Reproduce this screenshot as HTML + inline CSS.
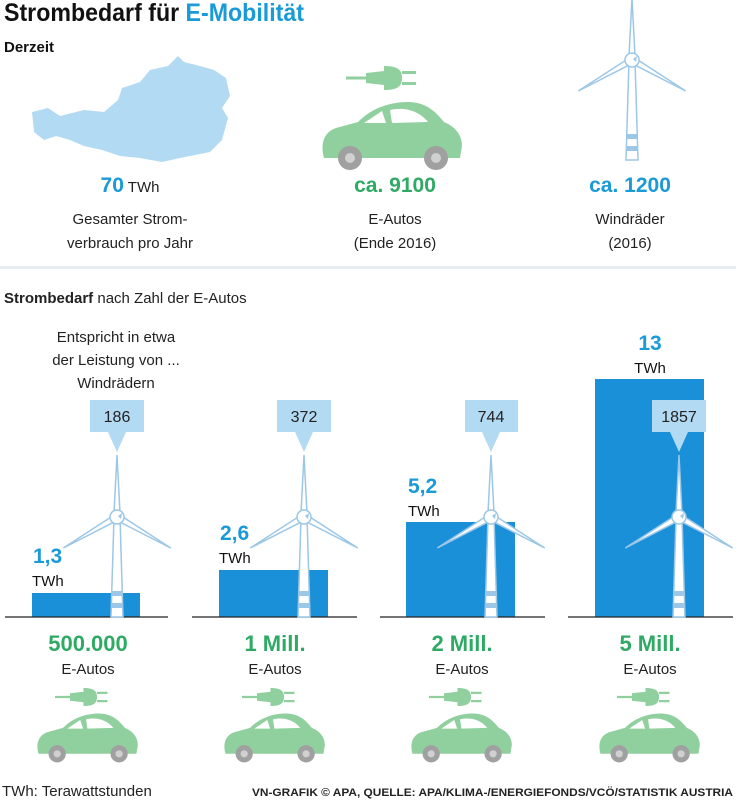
<!DOCTYPE html>
<html><head><meta charset="utf-8"><style>
html,body{margin:0;padding:0;background:#fff;}
svg{display:block;font-family:"Liberation Sans Narrow","Liberation Sans",sans-serif;}
</style></head><body>
<svg width="736" height="800" viewBox="0 0 736 800" xmlns="http://www.w3.org/2000/svg">
<defs>
<g id="tb">
  <path d="M-3,0 L-6,100 L6,100 L3,0 Z" fill="#fff" stroke="#9cc7e6" stroke-width="1.5"/>
  <rect x="-5.5" y="74" width="11" height="5" fill="#9cc7e6"/>
  <rect x="-5.8" y="86" width="11.6" height="5" fill="#9cc7e6"/>
  <path d="M-3,-4 L0,-62 L3,-4 Z" fill="#fff" stroke="#9cc7e6" stroke-width="1.5"/>
  <path d="M-3,-4 L0,-62 L3,-4 Z" fill="#fff" stroke="#9cc7e6" stroke-width="1.5" transform="rotate(-120)"/>
  <path d="M-3,-4 L0,-62 L3,-4 Z" fill="#fff" stroke="#9cc7e6" stroke-width="1.5" transform="rotate(120)"/>
  <circle r="7" fill="#fff" stroke="#9cc7e6" stroke-width="1.5"/>
  <path d="M1,-1 L5,-4 L4,2 Z" fill="#9cc7e6"/>
</g>
<g id="car">
  <path d="M-66,40 C-70,26 -66,14 -54,10 L-32,4 C-18,-10 0,-16 18,-16 C36,-16 46,-6 54,4 C64,8 72,16 72,28 L70,40 Z" fill="#90cf9e"/>
  <path d="M-26,5 L-8,-7 L-4,5 Z" fill="#fff"/>
  <path d="M0,-8 C14,-11 28,-8 38,4 L2,5 Z" fill="#fff"/>
  <circle cx="-40" cy="40" r="12" fill="#a0a0a0"/><circle cx="-40" cy="40" r="5" fill="#d0d0d0"/>
  <circle cx="46" cy="40" r="12" fill="#a0a0a0"/><circle cx="46" cy="40" r="5" fill="#d0d0d0"/>
</g>
<g id="plug">
  <rect x="-44" y="-1.5" width="22" height="3" fill="#90cf9e"/>
  <path d="M-24,-5 L-6,-7 L-6,7 L-24,5 Z" fill="#90cf9e"/>
  <path d="M-6,-12 C8,-12 12,-8 12,0 C12,8 8,12 -6,12 Z" fill="#90cf9e"/>
  <rect x="12" y="-7" width="14" height="3" fill="#90cf9e"/>
  <rect x="12" y="4" width="14" height="3" fill="#90cf9e"/>
</g>
</defs>
<text x="4" y="21" font-size="25" font-weight="bold" fill="#111" textLength="300" lengthAdjust="spacingAndGlyphs">Strombedarf für <tspan fill="#1a9ad6">E-Mobilität</tspan></text>
<text x="4" y="52" font-size="15" font-weight="bold" fill="#111">Derzeit</text>
<path d="M32,112 L48,108 L60,116 L84,110 L104,112 L118,100 L122,88 L140,82 L150,70 L168,66 L178,56 L184,62 L200,66 L214,70 L226,78 L230,96 L222,108 L228,118 L222,140 L210,152 L180,158 L162,162 L140,158 L120,156 L102,150 L84,146 L70,140 L56,136 L44,140 L34,132 Z" fill="#b3daf3"/>
<use href="#plug" x="390" y="104" transform="translate(0,-26)"/>
<use href="#car" x="390" y="118"/>
<use href="#tb" x="632" y="60"/>
<g text-anchor="middle" font-size="15" fill="#222">
<text x="130" y="192"><tspan font-size="21" font-weight="bold" fill="#1a9ad6">70</tspan> TWh</text>
<text x="395" y="192" font-size="21" font-weight="bold" fill="#2eaa64">ca. 9100</text>
<text x="630" y="192" font-size="21" font-weight="bold" fill="#1a9ad6">ca. 1200</text>
<text x="130" y="224">Gesamter Strom-</text><text x="130" y="248">verbrauch pro Jahr</text>
<text x="395" y="224">E-Autos</text><text x="395" y="248">(Ende 2016)</text>
<text x="630" y="224">Windräder</text><text x="630" y="248">(2016)</text>
</g>
<rect x="0" y="266" width="736" height="3" fill="#e6eef4"/>
<text x="4" y="303" font-size="15" fill="#222"><tspan font-weight="bold">Strombedarf</tspan> nach Zahl der E-Autos</text>
<g text-anchor="middle" font-size="15" fill="#222">
<text x="116" y="342">Entspricht in etwa</text><text x="116" y="365">der Leistung von ...</text><text x="116" y="388">Windrädern</text>
</g>
<g fill="#1a90d9">
<rect x="32" y="593" width="108" height="24"/>
<rect x="219" y="570" width="109" height="47"/>
<rect x="406" y="522" width="109" height="95"/>
<rect x="595" y="379" width="109" height="238"/>
</g>
<g stroke="#222" stroke-width="1.2">
<line x1="5" y1="617" x2="168" y2="617"/><line x1="192" y1="617" x2="357" y2="617"/>
<line x1="380" y1="617" x2="545" y2="617"/><line x1="568" y1="617" x2="733" y2="617"/>
</g>
<use href="#tb" x="117" y="520" transform="translate(0,-3)"/>
<use href="#tb" x="304" y="520" transform="translate(0,-3)"/>
<use href="#tb" x="491" y="520" transform="translate(0,-3)"/>
<use href="#tb" x="679" y="520" transform="translate(0,-3)"/>
<g fill="#b3daf3">
<rect x="90" y="400" width="54" height="32"/><path d="M108,432 L117,452 L126,432Z"/>
<rect x="277" y="400" width="54" height="32"/><path d="M295,432 L304,452 L313,432Z"/>
<rect x="465" y="400" width="53" height="32"/><path d="M482,432 L491,452 L500,432Z"/>
<rect x="652" y="400" width="54" height="32"/><path d="M670,432 L679,452 L688,432Z"/>
</g>
<g text-anchor="middle" font-size="16" fill="#222">
<text x="117" y="422">186</text><text x="304" y="422">372</text><text x="491" y="422">744</text><text x="679" y="422">1857</text>
</g>
<g font-size="15" fill="#111">
<text x="33" y="563" font-size="21" font-weight="bold" fill="#1a9ad6">1,3</text><text x="32" y="586">TWh</text>
<text x="220" y="540" font-size="21" font-weight="bold" fill="#1a9ad6">2,6</text><text x="219" y="563">TWh</text>
<text x="408" y="493" font-size="21" font-weight="bold" fill="#1a9ad6">5,2</text><text x="408" y="516">TWh</text>
<text x="650" y="350" text-anchor="middle" font-size="21" font-weight="bold" fill="#1a9ad6">13</text><text x="650" y="373" text-anchor="middle">TWh</text>
</g>
<g text-anchor="middle">
<g font-size="22" font-weight="bold" fill="#2eaa64">
<text x="88" y="651">500.000</text><text x="275" y="651">1 Mill.</text><text x="462" y="651">2 Mill.</text><text x="650" y="651">5 Mill.</text>
</g>
<g font-size="15" fill="#222">
<text x="88" y="674">E-Autos</text><text x="275" y="674">E-Autos</text><text x="462" y="674">E-Autos</text><text x="650" y="674">E-Autos</text>
</g>
</g>
<g transform="translate(88,0)"><use href="#plug" transform="translate(0,697) scale(0.75)"/><use href="#car" transform="translate(-2,725) scale(0.72)"/></g>
<g transform="translate(275,0)"><use href="#plug" transform="translate(0,697) scale(0.75)"/><use href="#car" transform="translate(-2,725) scale(0.72)"/></g>
<g transform="translate(462,0)"><use href="#plug" transform="translate(0,697) scale(0.75)"/><use href="#car" transform="translate(-2,725) scale(0.72)"/></g>
<g transform="translate(650,0)"><use href="#plug" transform="translate(0,697) scale(0.75)"/><use href="#car" transform="translate(-2,725) scale(0.72)"/></g>
<text x="2" y="796" font-size="15" fill="#222">TWh: Terawattstunden</text>
<text x="252" y="796" font-size="11" font-weight="bold" fill="#222" textLength="481" lengthAdjust="spacingAndGlyphs">VN-GRAFIK © APA, QUELLE: APA/KLIMA-/ENERGIEFONDS/VCÖ/STATISTIK AUSTRIA</text>
</svg>
</body></html>
